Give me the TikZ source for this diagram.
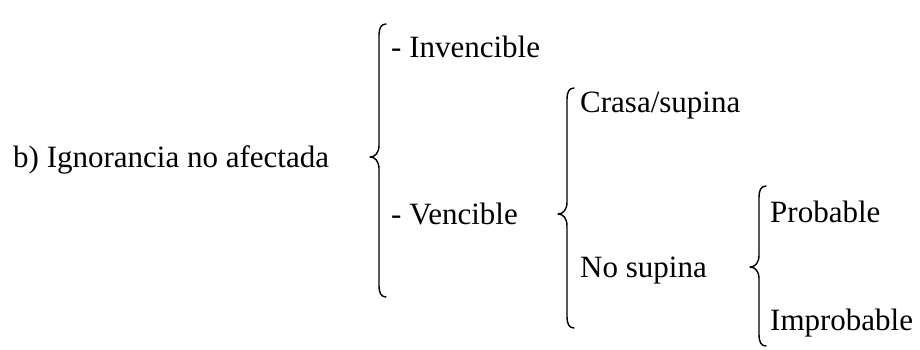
\documentclass[tikz,border=0pt]{standalone}
\usepackage{fontspec}
\setmainfont{Liberation Serif}
\newcommand{\mybrace}[4]{%
  \draw[bracestyle] (#1+7,#2) .. controls (#1+2,#2) and (#1,#2+4) .. (#1,#2+12)
    -- (#1,#3-12) .. controls (#1,#3-4) and (#1-4,#3) .. (#1-9,#3)
    .. controls (#1-4,#3) and (#1,#3+4) .. (#1,#3+12)
    -- (#1,#4-12) .. controls (#1,#4-4) and (#1+2,#4) .. (#1+7,#4);}
\begin{document}
\begin{tikzpicture}[x=1pt,y=-1pt,
  lbl/.style={anchor=base west,inner sep=0pt,font=\fontsize{31}{36}\selectfont},
  bracestyle/.style={line width=1.4pt,line cap=round,line join=round}]
\useasboundingbox (0,0) rectangle (920,349);
\node[lbl] (root) at (13,167) {b) Ignorancia no afectada};
\node[lbl] (inv) at (391,57) {- Invencible};
\node[lbl] (ven) at (391,224) {- Vencible};
\node[lbl] (cra) at (580,112) {Crasa/supina};
\node[lbl] (nos) at (580,277) {No supina};
\node[lbl] (pro) at (770,222) {Probable};
\node[lbl] (imp) at (770,330) {Improbable};
\mybrace{379}{24}{157}{297}
\mybrace{567}{88}{214}{328}
\mybrace{759}{186}{267}{346}
\end{tikzpicture}
\end{document}
